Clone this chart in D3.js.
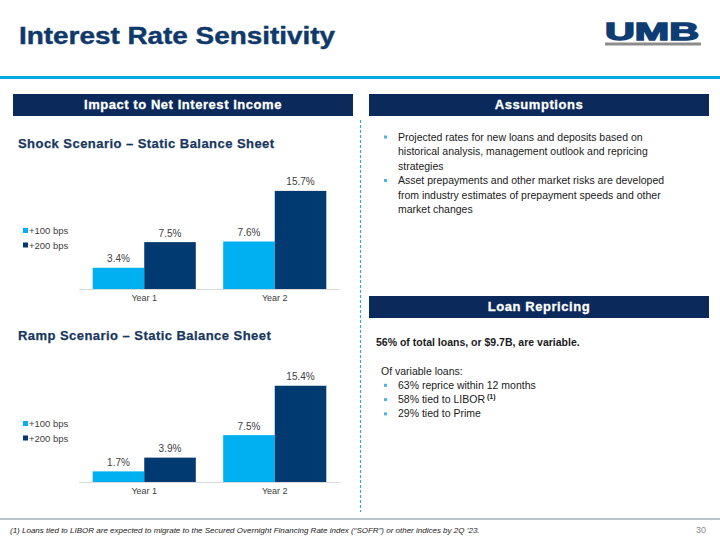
<!DOCTYPE html>
<html><head><meta charset="utf-8">
<script src="https://cdn.jsdelivr.net/npm/d3@7"></script>
<style>body{margin:0;background:#fff}svg{display:block;font-family:"Liberation Sans",Arial,sans-serif}</style>
</head><body><svg id="c" width="720" height="540"></svg>
<script>
const years = ["Year 1", "Year 2"];
const seriesNames = ["+100 bps", "+200 bps"];
const shock100 = [3.4, 7.6];
const shock200 = [7.5, 15.7];
const ramp100 = [1.7, 7.5];
const ramp200 = [3.9, 15.4];
const assumptions = [
  ["Projected rates for new loans and deposits based on", "historical analysis, management outlook and repricing", "strategies"],
  ["Asset prepayments and other market risks are developed", "from industry estimates of prepayment speeds and other", "market changes"]
];
const variableBullets = ["63% reprice within 12 months", "58% tied to LIBOR", "29% tied to Prime"];

const colors = ["#00b0f0", "#003a70"];
const navy = "#0b2a5b";
const svg = d3.select("#c");

// Title
svg.append("text").attr("x", 19).attr("y", 44).attr("font-size", 23).attr("font-weight", "bold")
  .attr("fill", "#10396b").attr("stroke", "#10396b").attr("stroke-width", 0.4)
  .attr("textLength", 316).attr("lengthAdjust", "spacingAndGlyphs").text("Interest Rate Sensitivity");
// Logo
svg.append("text").attr("x", 605).attr("y", 40).attr("font-size", 24).attr("font-weight", "bold")
  .attr("fill", "#0d3d73").attr("stroke", "#0d3d73").attr("stroke-width", 1.4)
  .attr("textLength", 94).attr("lengthAdjust", "spacingAndGlyphs").text("UMB");
svg.append("rect").attr("x", 605).attr("y", 42.5).attr("width", 96).attr("height", 3).attr("fill", "#8c8c8c");
// Blue rule
svg.append("rect").attr("x", 0).attr("y", 76).attr("width", 720).attr("height", 3).attr("fill", "#00a9e0");

// Header bars
function header(x, y, w, label) {
  svg.append("rect").attr("x", x).attr("y", y).attr("width", w).attr("height", 22).attr("fill", navy);
  svg.append("text").attr("x", x + w / 2).attr("y", y + 15).attr("text-anchor", "middle")
    .attr("font-size", 13).attr("font-weight", "bold").attr("fill", "#fff")
    .attr("stroke", "#fff").attr("stroke-width", 0.3).attr("letter-spacing", 0.55).text(label);
}
header(13, 94, 340, "Impact to Net Interest Income");
header(369, 94, 340, "Assumptions");
header(369, 296, 340, "Loan Repricing");

// Divider
svg.append("line").attr("x1", 360.5).attr("x2", 360.5).attr("y1", 120).attr("y2", 512)
  .attr("stroke", "#3aa6d0").attr("stroke-width", 1.2).attr("stroke-dasharray", "3,2");

// Charts
function chart(title, titleY, baseY, s100, s200) {
  svg.append("text").attr("x", 18).attr("y", titleY).attr("font-size", 13).attr("font-weight", "bold")
    .attr("fill", "#17375e").attr("stroke", "#17375e").attr("stroke-width", 0.25)
    .attr("letter-spacing", 0.45).text(title);
  const x0 = d3.scaleBand().domain(years).range([79, 340]).paddingInner(0.21).paddingOuter(0.105);
  const x1 = d3.scaleBand().domain(seriesNames).range([0, x0.bandwidth()]);
  const y = d3.scaleLinear().domain([0, 18]).range([baseY, baseY - 18 * 6.25]);
  const g = svg.append("g");
  const data = years.map((yr, i) => ({ yr, vals: [s100[i], s200[i]] }));
  const grp = g.selectAll("g.cat").data(data).join("g").attr("transform", d => `translate(${x0(d.yr)},0)`);
  grp.selectAll("rect").data(d => d.vals.map((v, j) => ({ v, s: seriesNames[j], j })))
    .join("rect").attr("x", d => x1(d.s)).attr("width", x1.bandwidth())
    .attr("y", d => y(d.v)).attr("height", d => y(0) - y(d.v)).attr("fill", d => colors[d.j]);
  grp.selectAll("text").data(d => d.vals.map((v, j) => ({ v, s: seriesNames[j] })))
    .join("text").attr("x", d => x1(d.s) + x1.bandwidth() / 2).attr("y", d => y(d.v) - 5.5)
    .attr("text-anchor", "middle").attr("font-size", 10).attr("fill", "#404040").text(d => d.v.toFixed(1) + "%");
  const ax = g.append("g").attr("transform", `translate(0,${baseY})`)
    .call(d3.axisBottom(x0).tickSize(0).tickPadding(6));
  ax.select(".domain").attr("stroke", "#d9d9d9").attr("d", `M79,0.5H340`);
  ax.selectAll("text").attr("font-size", 9).attr("fill", "#404040").attr("font-family", "'Liberation Sans',Arial,sans-serif");
  // legend
  const leg = g.selectAll("g.leg").data(seriesNames).join("g")
    .attr("transform", (d, i) => `translate(23,${baseY - 55 + i * 14.5})`);
  leg.append("rect").attr("x", 0).attr("y", -6).attr("width", 5).attr("height", 5).attr("fill", (d, i) => colors[i]);
  leg.append("text").attr("x", 6).attr("y", 0).attr("font-size", 9.5).attr("fill", "#404040").text(d => d);
}
chart("Shock Scenario \u2013 Static Balance Sheet", 148, 289, shock100, shock200);
chart("Ramp Scenario \u2013 Static Balance Sheet", 340, 482, ramp100, ramp200);

// Right text
const rt = svg.append("g").attr("font-size", 10.5).attr("fill", "#1a1a1a");
let ly = 140.5;
assumptions.forEach(lines => {
  rt.append("rect").attr("x", 384).attr("y", ly - 5).attr("width", 3).attr("height", 3).attr("fill", "#4fb3e0");
  lines.forEach(l => { rt.append("text").attr("x", 398).attr("y", ly).text(l); ly += 14.5; });
});
rt.append("text").attr("x", 376).attr("y", 346).attr("font-weight", "bold").text("56% of total loans, or $9.7B, are variable.");
rt.append("text").attr("x", 381).attr("y", 374.5).text("Of variable loans:");
variableBullets.forEach((b, i) => {
  const yy = 388.8 + i * 14.3;
  rt.append("rect").attr("x", 384).attr("y", yy - 5).attr("width", 3).attr("height", 3).attr("fill", "#4fb3e0");
  const t = rt.append("text").attr("x", 398).attr("y", yy).text(b);
  if (i === 1) t.append("tspan").attr("font-size", 7).attr("dy", -4).attr("font-weight", "bold").text(" (1)");
});

// Footer
svg.append("line").attr("x1", 0).attr("x2", 720).attr("y1", 519).attr("y2", 519).attr("stroke", "#a0b0c0").attr("stroke-width", 1.5);
svg.append("text").attr("x", 10).attr("y", 533).attr("font-size", 8).attr("font-style", "italic").attr("fill", "#1a1a1a")
  .text("(1) Loans tied to LIBOR are expected to migrate to the Secured Overnight Financing Rate index (\u201CSOFR\u201D) or other indices by 2Q \u201923.");
svg.append("text").attr("x", 706).attr("y", 533).attr("text-anchor", "end").attr("font-size", 9).attr("fill", "#8c8c8c").text("30");
</script></body></html>
